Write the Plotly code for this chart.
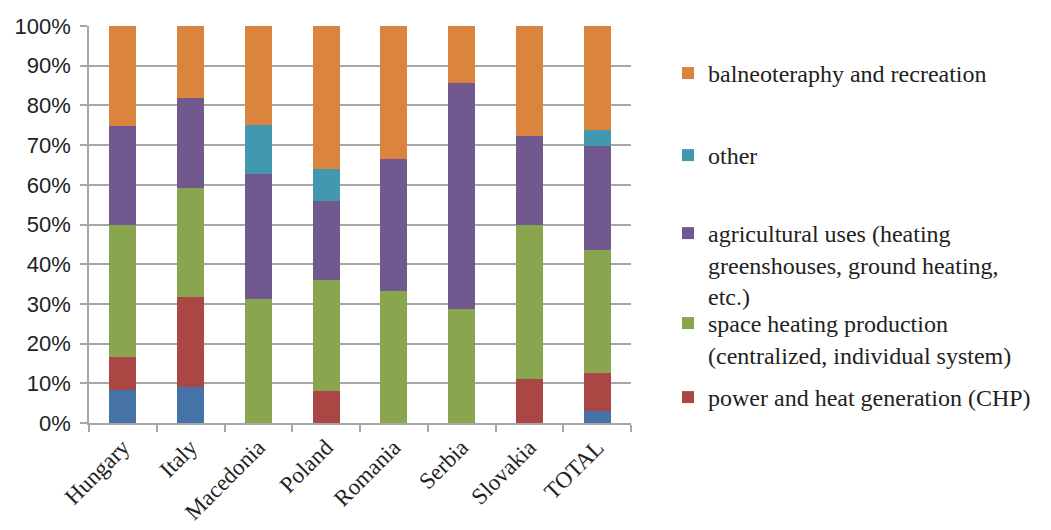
import plotly.graph_objects as go

categories = ["Hungary", "Italy", "Macedonia", "Poland", "Romania", "Serbia", "Slovakia", "TOTAL"]

electricity = [8.3, 9.1, 0, 0, 0, 0, 0, 2.9]
chp = [8.3, 22.7, 0, 8.0, 0, 0, 11.1, 9.7]
space_heating = [33.3, 27.3, 31.3, 28.0, 33.3, 28.6, 38.9, 31.1]
agricultural = [25.0, 22.7, 31.3, 20.0, 33.3, 57.1, 22.2, 26.2]
other = [0, 0, 12.5, 8.0, 0, 0, 0, 3.9]
balneo = [25.0, 18.2, 25.0, 36.0, 33.3, 14.3, 27.8, 26.2]

y_ticks = list(range(0, 101, 10))

series = [
    ("electricity generation", electricity, "#4572A7", None),
    ("power and heat generation (CHP)", chp, "#AA4643", "legend5"),
    ("space heating production<br>(centralized, individual system)", space_heating, "#89A54E", "legend4"),
    ("agricultural uses (heating<br>greenshouses, ground heating,<br>etc.)", agricultural, "#71588F", "legend3"),
    ("other", other, "#4198AF", "legend2"),
    ("balneoteraphy and recreation", balneo, "#DB843D", "legend"),
]

fig = go.Figure()
for name, vals, color, leg in series:
    kw = dict(x=categories, y=vals, name=name, marker=dict(color=color, line=dict(width=0)))
    if leg is None:
        kw["showlegend"] = False
    else:
        kw["legend"] = leg
    fig.add_trace(go.Bar(**kw))

# page offset from default body margin
OFF = 8
W, H = 1051 - OFF, 530 - OFF
# desired plot area in page pixels: x 89..631, y 26..423
L, R, T, B = 89 - OFF, 631 - OFF, 26 - OFF, 423 - OFF

def px_to_paper_x(px):
    return (px - OFF - L) / (R - L)

def px_to_paper_y(py):
    return (B - (py - OFF)) / (B - T)

legend_font = dict(family="Liberation Serif", size=24, color="#222222")
leg_x = px_to_paper_x(668)
first_line_centres = {"legend": 71, "legend2": 153, "legend3": 231, "legend4": 321, "legend5": 395}
legend_layouts = {}
for key, cy in first_line_centres.items():
    legend_layouts[key] = dict(
        x=leg_x, xanchor="left",
        y=px_to_paper_y(cy - 20), yanchor="top",
        font=legend_font, valign="top",
        bgcolor="rgba(0,0,0,0)", borderwidth=0,
    )

fig.update_layout(
    width=W, height=H,
    barmode="stack",
    bargap=0.6,
    plot_bgcolor="white",
    paper_bgcolor="white",
    margin=dict(l=L, r=W - R, t=T, b=H - B, autoexpand=False),
    showlegend=True,
    **legend_layouts,
)

fig.update_yaxes(
    range=[0, 100],
    tickvals=y_ticks,
    ticktext=[f"{v}%" for v in y_ticks],
    showgrid=True, gridcolor="#a6a6a6", gridwidth=1.5,
    showline=True, linecolor="#a6a6a6", linewidth=1.5,
    ticks="outside", ticklen=7, tickcolor="#a6a6a6", tickwidth=1.5,
    ticklabelstandoff=5,
    tickfont=dict(family="Liberation Sans", size=22, color="#222222"),
    zeroline=False, automargin=False,
)
fig.update_xaxes(
    showline=True, linecolor="#a6a6a6", linewidth=1.5,
    ticks="outside", ticklen=7, tickcolor="#a6a6a6", tickwidth=1.5,
    tickson="boundaries",
    tickangle=-45, automargin=False,
    tickfont=dict(family="Liberation Serif", size=23, color="#222222"),
)

fig.write_html("out.html")
